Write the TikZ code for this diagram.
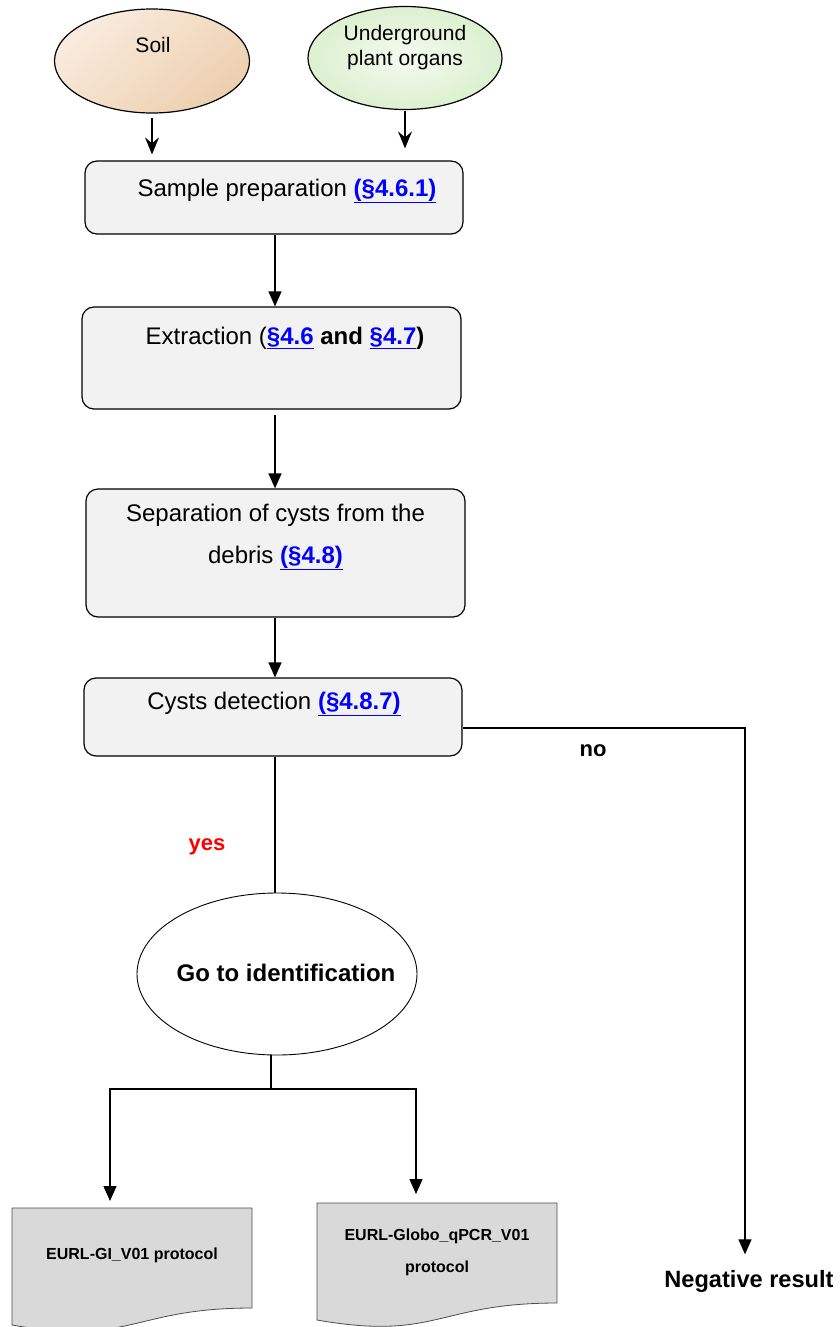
\documentclass[tikz,border=0pt]{standalone}
\usepackage{fontspec}
\setmainfont{Liberation Sans}
\usetikzlibrary{arrows.meta,shapes.geometric}

\definecolor{soilTan}{HTML}{EDCFAE}
\definecolor{soilLight}{HTML}{F9ECDF}
\definecolor{organGreen}{HTML}{DCF0CF}
\definecolor{boxGray}{HTML}{F2F2F2}
\definecolor{docGray}{HTML}{D9D9D9}
\definecolor{linkBlue}{HTML}{0000FF}
\definecolor{yesRed}{HTML}{FF0000}

\newcommand{\seclink}[1]{\textcolor{linkBlue}{\underline{\textbf{#1}}}}

\begin{document}
\begin{tikzpicture}[x=1pt, y=-1pt, line width=1.2pt,
	stepbox/.style={draw, rounded corners=12pt, fill=boxGray},
	boxtext/.style={font=\fontsize{24}{28}\selectfont, inner sep=0pt},
	ovaltext/.style={font=\fontsize{21}{25}\selectfont, inner sep=0pt, align=center},
	doctext/.style={font=\bfseries\fontsize{16}{32}\selectfont, inner sep=0pt, align=center},
	docshape/.style={fill=docGray, draw=black!70, line width=0.8pt},
	flow/.style={-{Triangle[width=13pt,length=15pt]}},
	feed/.style={-{Stealth[width=14pt,length=17pt,inset=6pt]}}]
	\useasboundingbox (0,0) rectangle (840,1327);

	\node (soil)	at (152,  61)	[ellipse, draw, minimum width=195pt, minimum height=104pt, top color=soilLight, bottom color=soilTan, shading angle=40]	{};
	\node (organs)	at (405,  58)	[ellipse, draw, minimum width=194pt, minimum height=103pt, inner color=white!70!organGreen, outer color=organGreen]	{};
	\node (soilText)	at (153,  45)	[ovaltext]	{Soil};
	\node (organsText)	at (405,  48)	[ovaltext]	{Underground\\plant organs};

	\node (prep)	at (274, 197.5)	[stepbox, minimum width=378pt, minimum height=73pt]	{};
	\node (extract)	at (271.5, 358)	[stepbox, minimum width=379pt, minimum height=102pt]	{};
	\node (separate)	at (275.5, 553)	[stepbox, minimum width=379pt, minimum height=128pt]	{};
	\node (detect)	at (273, 717)	[stepbox, minimum width=378pt, minimum height=78pt]	{};

	\node (prepText)	at (287, 191)	[boxtext]	{Sample preparation \seclink{(§4.6.1)}};
	\node (extractText)	at (285, 338)	[boxtext]	{Extraction (\seclink{§4.6} \textbf{and} \seclink{§4.7}\textbf{)}};
	\node (separateText)	at (275.5, 537)	[boxtext, align=center, font=\fontsize{24}{42}\selectfont]	{Separation of cysts from the\\debris \seclink{(§4.8)}};
	\node (detectText)	at (274, 704)	[boxtext]	{Cysts detection \seclink{(§4.8.7)}};

	\node (ident)	at (277, 974)	[ellipse, draw, line width=0.9pt, minimum width=280pt, minimum height=162pt]	{};
	\node (identText)	at (286, 973)	[boxtext, font=\bfseries\fontsize{24}{28}\selectfont]	{Go to identification};

	\node (yesLabel)	at (207, 847)	[boxtext, text=yesRed, font=\bfseries\fontsize{22}{26}\selectfont]	{yes};
	\node (noLabel)	at (593, 751)	[boxtext, font=\bfseries\fontsize{22}{26}\selectfont]	{no};
	\node (negative)	at (749, 1281)	[boxtext, font=\bfseries\fontsize{23.6}{28}\selectfont]	{Negative result};

	\path[docshape] (12,1208) -- (252,1208) -- (252,1308) .. controls (132,1308) and (132,1346) .. (12,1325) -- cycle;
	\path[docshape] (317,1203) -- (557,1203) -- (557,1303) .. controls (437,1303) and (437,1341) .. (317,1320) -- cycle;
	\node (giText)	at (132, 1255)	[doctext]	{EURL-GI\_V01 protocol};
	\node (qpcrText)	at (437, 1252)	[doctext]	{EURL-Globo\_qPCR\_V01\\protocol};

	\coordinate (split)	at (271, 1089);
	\coordinate (giTop)	at (110, 1201);
	\coordinate (qpcrTop)	at (416, 1194);
	\coordinate (noCorner)	at (745, 728);

	\draw[feed] ([yshift=-4pt]soil.south) -- ([yshift=6pt]soil.south |- prep.north);
	\draw[feed] ([yshift=-1pt]organs.south) -- ([yshift=12pt]organs.south |- prep.north);
	\draw[flow] (prep.south -| 275,0) -- (extract.north -| 275,0);
	\draw[flow] ([yshift=-5pt]extract.south -| 275,0) -- (separate.north -| 275,0);
	\draw[flow] (separate.south -| 275,0) -- (detect.north -| 275,0);
	\draw (detect.south -| 275,0) -- (ident.north -| 275,0);
	\draw[flow] (detect.east |- noCorner) -- (noCorner) -- ([yshift=15pt]noCorner |- negative.north);
	\draw (split |- ident.south) -- (split);
	\draw[flow] (split) -| (giTop);
	\draw[flow] (split) -| (qpcrTop);
\end{tikzpicture}
\end{document}
